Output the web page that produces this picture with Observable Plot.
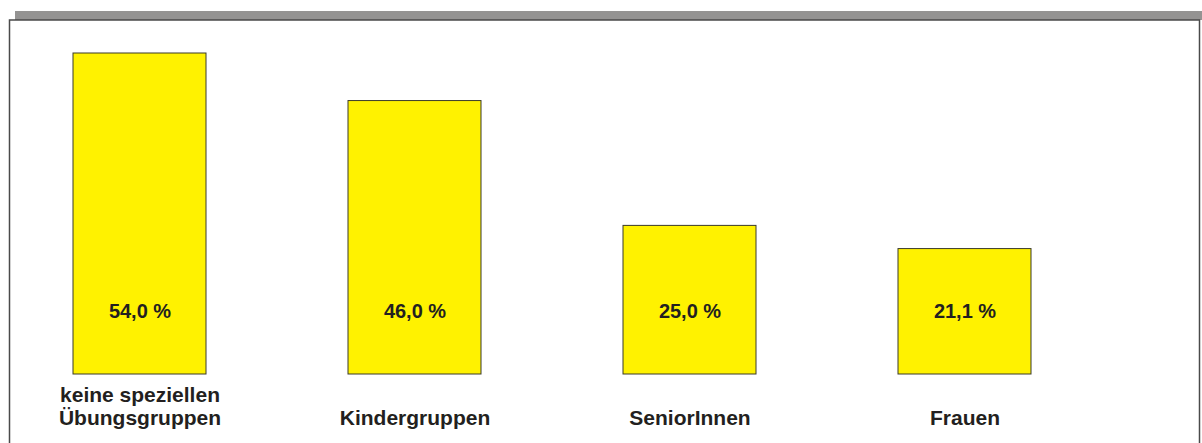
<!DOCTYPE html>
<html>
<head>
<meta charset="utf-8">
<script src="https://cdn.jsdelivr.net/npm/d3@7"></script>
<script src="https://cdn.jsdelivr.net/npm/@observablehq/plot@0.6"></script>
<style>
  html, body { margin: 0; padding: 0; background: #fff; }
  g[aria-label="values"] text { letter-spacing: 1.2px; }
  g[aria-label="categories"] text { letter-spacing: 0.7px; }
</style>
</head>
<body>
<div id="chart"></div>
<script>
const categories = ["keine speziellen\nÜbungsgruppen", "Kindergruppen", "SeniorInnen", "Frauen"];
const values = [54.0, 46.0, 25.0, 21.1];
const valueLabels = ["54,0 %", "46,0 %", "25,0 %", "21,1 %"];

const data = categories.map((c, i) => ({category: c, value: values[i], label: valueLabels[i]}));

const chart = Plot.plot({
  width: 1202,
  height: 443,
  marginLeft: 9,
  marginRight: 2,
  marginTop: 20,
  marginBottom: 0,
  style: {fontFamily: "'Liberation Sans', Arial, sans-serif", background: "#fff"},
  x: {domain: categories, range: [73, 1032], paddingInner: 0.515, paddingOuter: 0, axis: null},
  y: {domain: [0, 54], range: [374, 53], axis: null},
  marks: [
    // grey header band
    Plot.rect([0], {fill: "#949392", stroke: null, insetTop: -9, insetBottom: 423, insetLeft: 6, insetRight: -2}),
    // frame border (bottom edge off-canvas)
    Plot.rect([0], {fill: "none", stroke: "#4a4a4a", strokeWidth: 1.5, insetBottom: -6, insetLeft: 0.5, insetRight: 0.5}),
    Plot.barY(data, {x: "category", y: "value", fill: "#fff200", stroke: "#3a3a2a", strokeWidth: 1}),
    Plot.text(data, {
      x: "category", text: "label", frameAnchor: "bottom", lineAnchor: "bottom", dy: -126,
      fontSize: 20, fontWeight: "bold", fill: "#231f20", ariaLabel: "values"
    }),
    Plot.text(data, {
      x: "category", text: "category", frameAnchor: "bottom", lineAnchor: "bottom", dy: -19,
      lineHeight: 1.08, fontSize: 21, fontWeight: "bold", fill: "#231f20", ariaLabel: "categories"
    })
  ]
});
document.getElementById("chart").append(chart);
</script>
</body>
</html>
